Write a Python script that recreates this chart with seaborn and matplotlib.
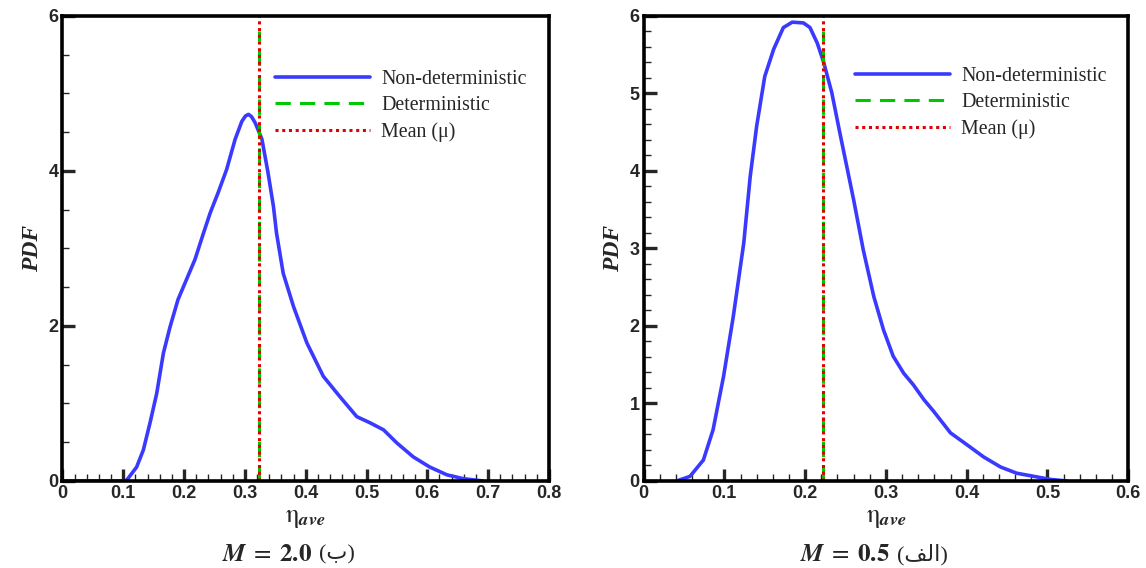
import numpy as np
import pandas as pd
import matplotlib
matplotlib.use("Agg")
import matplotlib.pyplot as plt
from matplotlib.ticker import MultipleLocator
import seaborn as sns

# M = 2.0 panel (left)
eta_m20 = [0.0, 0.1, 0.1056, 0.122, 0.133, 0.144, 0.155, 0.166, 0.177, 0.190, 0.204,
           0.218, 0.232, 0.243, 0.256, 0.270, 0.284, 0.295, 0.301, 0.306, 0.311, 0.317,
           0.328, 0.338, 0.347, 0.352, 0.363, 0.380, 0.402, 0.429, 0.456, 0.484, 0.506,
           0.528, 0.550, 0.577, 0.604, 0.632, 0.659, 0.692]
pdf_m20 = [0.0, 0.0, 0.01, 0.18, 0.40, 0.75, 1.13, 1.65, 1.99, 2.34, 2.60,
           2.86, 3.20, 3.46, 3.72, 4.02, 4.41, 4.64, 4.71, 4.73, 4.70, 4.62,
           4.41, 3.98, 3.54, 3.20, 2.68, 2.25, 1.78, 1.35, 1.09, 0.83, 0.75,
           0.66, 0.49, 0.31, 0.18, 0.08, 0.03, 0.0]
mean_m20 = 0.3237
det_top_m20 = 5.8

# M = 0.5 panel (right)
eta_m05 = [0.041, 0.0575, 0.074, 0.086, 0.099, 0.111, 0.124, 0.132, 0.140, 0.150,
           0.161, 0.173, 0.184, 0.198, 0.206, 0.215, 0.223, 0.233, 0.243, 0.260,
           0.272, 0.285, 0.297, 0.309, 0.322, 0.334, 0.347, 0.359, 0.380, 0.400,
           0.421, 0.442, 0.462, 0.483, 0.504, 0.524]
pdf_m05 = [0.0, 0.06, 0.27, 0.66, 1.35, 2.12, 3.07, 3.93, 4.58, 5.22,
           5.57, 5.85, 5.92, 5.91, 5.85, 5.65, 5.40, 5.01, 4.49, 3.63,
           2.98, 2.38, 1.95, 1.61, 1.39, 1.24, 1.05, 0.90, 0.62, 0.47,
           0.31, 0.18, 0.10, 0.06, 0.02, 0.0]
mean_m05 = 0.2227
det_top_m05 = 5.8

labels = ["Non-deterministic", "Deterministic", "Mean (\u03bc)"]
# captions: math part + Arabic letters in visual (presentation) form
cap_left = (r"$\mathbfit{M}\;=\;\mathbf{2.0}$", "(\uFE8F)")
cap_right = (r"$\mathbfit{M}\;=\;\mathbf{0.5}$", "(\uFED2\uFEDF\uFE8D)")

sns.set_style("ticks")
plt.rcParams["font.family"] = ["Liberation Serif", "DejaVu Sans"]
plt.rcParams["mathtext.fontset"] = "stix"

fig = plt.figure(figsize=(11.46, 5.68), dpi=100)
ax_l = fig.add_axes([0.0545, 0.1532, 0.4245, 0.8187])
ax_r = fig.add_axes([0.5616, 0.1532, 0.4229, 0.8187])

panels = [
    (ax_l, eta_m20, pdf_m20, mean_m20, det_top_m20, 0.8, 2, 0.5, cap_left, 0.328, 0.883),
    (ax_r, eta_m05, pdf_m05, mean_m05, det_top_m05, 0.6, 1, 0.2, cap_right, 0.323, 0.89),
]

for ax, x, y, mu, det_top, xmax, ymaj, ymin, cap, cap_x, leg_y in panels:
    df = pd.DataFrame({"eta": x, "pdf": y})
    sns.lineplot(data=df, x="eta", y="pdf", ax=ax, color="#3a3aff", lw=2.6,
                 label=labels[0], sort=False)
    ax.plot([mu, mu], [0, det_top], color="#00c800", lw=2.2, ls=(0, (5, 3)),
            label=labels[1])
    ax.plot([mu, mu], [0, 6], color="#e00000", lw=2.2, ls=(0, (1, 1.2)),
            label=labels[2])

    ax.set_xlim(0, xmax)
    ax.set_ylim(0, 6)
    ax.xaxis.set_major_locator(MultipleLocator(0.1))
    ax.xaxis.set_minor_locator(MultipleLocator(0.02))
    ax.yaxis.set_major_locator(MultipleLocator(ymaj))
    ax.yaxis.set_minor_locator(MultipleLocator(ymin))
    ax.xaxis.set_major_formatter(lambda v, p: "0" if abs(v) < 1e-9 else f"{v:.1f}")
    ax.yaxis.set_major_formatter(lambda v, p: f"{v:.0f}")
    ax.tick_params(which="major", direction="in", length=9, width=2.4,
                   top=False, right=False, pad=3)
    ax.tick_params(which="minor", direction="in", length=5, width=1.0,
                   top=False, right=False)
    for lab in ax.get_xticklabels() + ax.get_yticklabels():
        lab.set_family("Liberation Sans")
        lab.set_weight("bold")
        lab.set_size(13)
    for sp in ax.spines.values():
        sp.set_visible(True)
        sp.set_linewidth(2.6)
        sp.set_color("black")

    ax.set_ylabel("PDF", fontsize=17, fontstyle="italic", fontweight="bold",
                  family="Liberation Serif", labelpad=4)
    ax.set_xlabel(r"$\mathrm{\eta}_{\mathbfit{ave}}$", fontsize=19, labelpad=4)

    t1 = ax.text(cap_x, -0.159, cap[0], transform=ax.transAxes, ha="left",
                 va="center", fontsize=18)
    ax.annotate(cap[1], xy=(1, 0.5), xycoords=t1, xytext=(5, 0),
                textcoords="offset points", ha="left", va="center",
                fontsize=16, family=["Liberation Serif", "DejaVu Sans"])

    ax.legend(loc="upper left", bbox_to_anchor=(0.437, leg_y), frameon=False,
              borderaxespad=0, borderpad=0, handlelength=4.75, handletextpad=0.55,
              labelspacing=0.35, prop={"family": "Liberation Serif", "size": 14.4})

fig.savefig("out.png", dpi=100)
